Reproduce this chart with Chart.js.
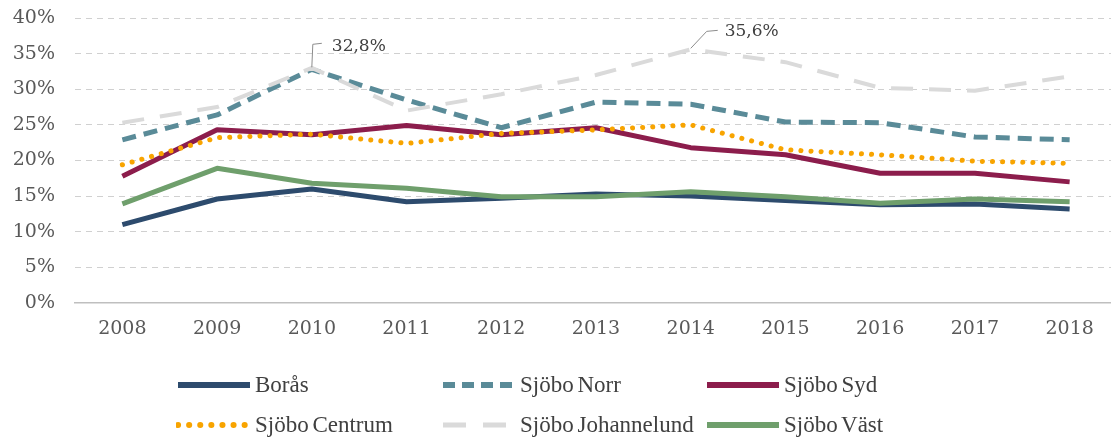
<!DOCTYPE html>
<html lang="sv">
<head>
    <meta charset="UTF-8">
    <title>Andel per område</title>
    <script src="https://cdn.jsdelivr.net/npm/chart.js"></script>
    <style>
        html, body { margin: 0; padding: 0; background: #fff; overflow: hidden; }
        .wrap { position: relative; width: 1111px; height: 439px; overflow: hidden; }
        .chart-box { position: absolute; left: 0; top: 0; width: 1120px; height: 350px; }
        .legend { position: absolute; left: 0; top: 0; width: 1111px; height: 439px; pointer-events: none; }
        .legend-item { position: absolute; display: flex; align-items: center; height: 30px; white-space: nowrap;
            font-family: "Liberation Serif", serif; font-size: 23px; color: #404040; word-spacing: -2px; }
        .legend-item svg { margin-right: 3px; }
    </style>
</head>
<body>
    <div class="wrap">
        <div class="chart-box"><canvas id="lineChart" width="1120" height="350"></canvas></div>
        <div class="legend" id="legend"></div>
    </div>

    <script>
    const years = ['2008', '2009', '2010', '2011', '2012', '2013', '2014', '2015', '2016', '2017', '2018'];
    const yTicks = [0, 5, 10, 15, 20, 25, 30, 35, 40];

    const boras       = [11.0, 14.6, 16.0, 14.2, 14.7, 15.3, 15.0, 14.4, 13.8, 13.9, 13.2];
    const sjoboNorr   = [22.9, 26.4, 32.8, 28.5, 24.6, 28.2, 27.9, 25.4, 25.3, 23.3, 22.9];
    const sjoboSyd    = [17.8, 24.3, 23.6, 24.9, 23.6, 24.6, 21.8, 20.8, 18.2, 18.2, 17.0];
    const sjoboCentrum = [19.4, 23.2, 23.7, 22.4, 23.8, 24.3, 25.0, 21.5, 20.8, 19.9, 19.6];
    const sjoboJohannelund = [25.3, 27.5, 33.0, 27.0, 29.3, 32.0, 35.6, 33.8, 30.2, 29.8, 31.8];
    const sjoboVast   = [13.9, 18.9, 16.8, 16.1, 14.9, 14.9, 15.6, 14.9, 14.0, 14.6, 14.2];

    // serie-namn, data, färg, streckmönster
    const series = [
        { name: 'Borås', data: boras, color: '#2d4b6d', dash: [], cap: 'butt', width: 5 },
        { name: 'Sjöbo Norr', data: sjoboNorr, color: '#5a8b98', dash: [14, 8], cap: 'butt', width: 5 },
        { name: 'Sjöbo Syd', data: sjoboSyd, color: '#8c1d4c', dash: [], cap: 'butt', width: 5 },
        { name: 'Sjöbo Centrum', data: sjoboCentrum, color: '#f8a400', dash: [0.1, 10], cap: 'round', width: 5 },
        { name: 'Sjöbo Johannelund', data: sjoboJohannelund, color: '#dadada', dash: [22, 16], cap: 'butt', width: 4 },
        { name: 'Sjöbo Väst', data: sjoboVast, color: '#6f9f6c', dash: [], cap: 'butt', width: 5 }
    ];

    // etiketter med hänvisningslinje
    const callouts = [
        { series: 1, index: 2, text: '32,8%', kind: 'vertical' },
        { series: 4, index: 6, text: '35,6%', kind: 'diagonal' }
    ];

    const calloutPlugin = {
        id: 'callouts',
        afterDatasetsDraw(chart) {
            const ctx = chart.ctx;
            const xs = chart.scales.x, ys = chart.scales.y;
            ctx.save();
            ctx.strokeStyle = '#8c8c8c';
            ctx.lineWidth = 1;
            ctx.fillStyle = '#404040';
            ctx.font = '17px "DejaVu Serif", serif';
            ctx.textBaseline = 'middle';
            callouts.forEach(c => {
                const px = xs.getPixelForValue(c.index);
                const py = ys.getPixelForValue(series[c.series].data[c.index]);
                ctx.beginPath();
                if (c.kind === 'vertical') {
                    ctx.moveTo(px, py - 2);
                    ctx.lineTo(px + 1, py - 25);
                    ctx.lineTo(px + 10, py - 26);
                    ctx.stroke();
                    ctx.fillText(c.text, px + 20, py - 23);
                } else {
                    ctx.moveTo(px, py - 1);
                    ctx.lineTo(px + 16, py - 18);
                    ctx.lineTo(px + 27, py - 19);
                    ctx.stroke();
                    ctx.fillText(c.text, px + 34, py - 18);
                }
            });
            ctx.restore();
        }
    };

    function initChart() {
        const ctx = document.getElementById('lineChart').getContext('2d');
        new Chart(ctx, {
            type: 'line',
            data: {
                labels: years,
                datasets: series.map((s, i) => ({
                    label: s.name,
                    data: s.data,
                    borderColor: s.color,
                    backgroundColor: s.color,
                    borderWidth: s.width,
                    borderDash: s.dash,
                    borderCapStyle: s.cap,
                    borderJoinStyle: 'round',
                    pointRadius: 0,
                    tension: 0,
                    fill: false,
                    order: series.length - i
                }))
            },
            options: {
                responsive: false,
                animation: false,
                layout: { padding: { top: 18, right: 3, left: 0, bottom: 0 } },
                plugins: {
                    legend: { display: false },
                    tooltip: { enabled: false }
                },
                scales: {
                    x: {
                        offset: true,
                        afterFit: s => { s.height = 47; },
                        grid: { display: false, drawTicks: false },
                        border: { display: true, color: '#bfbfbf', width: 1.5 },
                        ticks: {
                            color: '#595959',
                            padding: 15,
                            font: { family: '"DejaVu Serif", serif', size: 19 }
                        }
                    },
                    y: {
                        min: 0,
                        max: 40,
                        afterFit: s => { s.width = 75; s.paddingTop = 0; s.paddingBottom = 0; },
                        afterBuildTicks: s => { s.ticks = yTicks.map(v => ({ value: v })); },
                        grid: {
                            drawTicks: false,
                            color: c => c.tick && c.tick.value === 0 ? 'rgba(0,0,0,0)' : '#d0d0d0',
                            lineWidth: 1
                        },
                        border: { display: false, dash: [6, 5] },
                        ticks: {
                            color: '#595959',
                            padding: 20,
                            font: { family: '"DejaVu Serif", serif', size: 19 },
                            callback: v => v + '%'
                        }
                    }
                }
            },
            plugins: [calloutPlugin]
        });
    }

    function buildLegend() {
        const box = document.getElementById('legend');
        const cols = [176, 441, 705];
        const rows = [385, 425];
        series.forEach((s, i) => {
            const item = document.createElement('div');
            item.className = 'legend-item';
            item.style.left = cols[i % 3] + 'px';
            item.style.top = (rows[Math.floor(i / 3)] - 15) + 'px';
            const cap = s.cap === 'round' ? 'round' : 'butt';
            let dash = 'none';
            if (s.dash.length) dash = s.cap === 'round' ? '0.1,11' : (s.width < 5 ? '23,17' : '12,7');
            item.innerHTML =
                '<svg width="76" height="10"><line x1="2" y1="5" x2="74" y2="5" stroke="' + s.color +
                '" stroke-width="' + (s.width + 1) + '" stroke-linecap="' + cap + '" stroke-dasharray="' + dash +
                '"/></svg><span>' + s.name + '</span>';
            box.appendChild(item);
        });
    }

    window.onload = () => {
        initChart();
        buildLegend();
    };
    </script>
</body>
</html>
